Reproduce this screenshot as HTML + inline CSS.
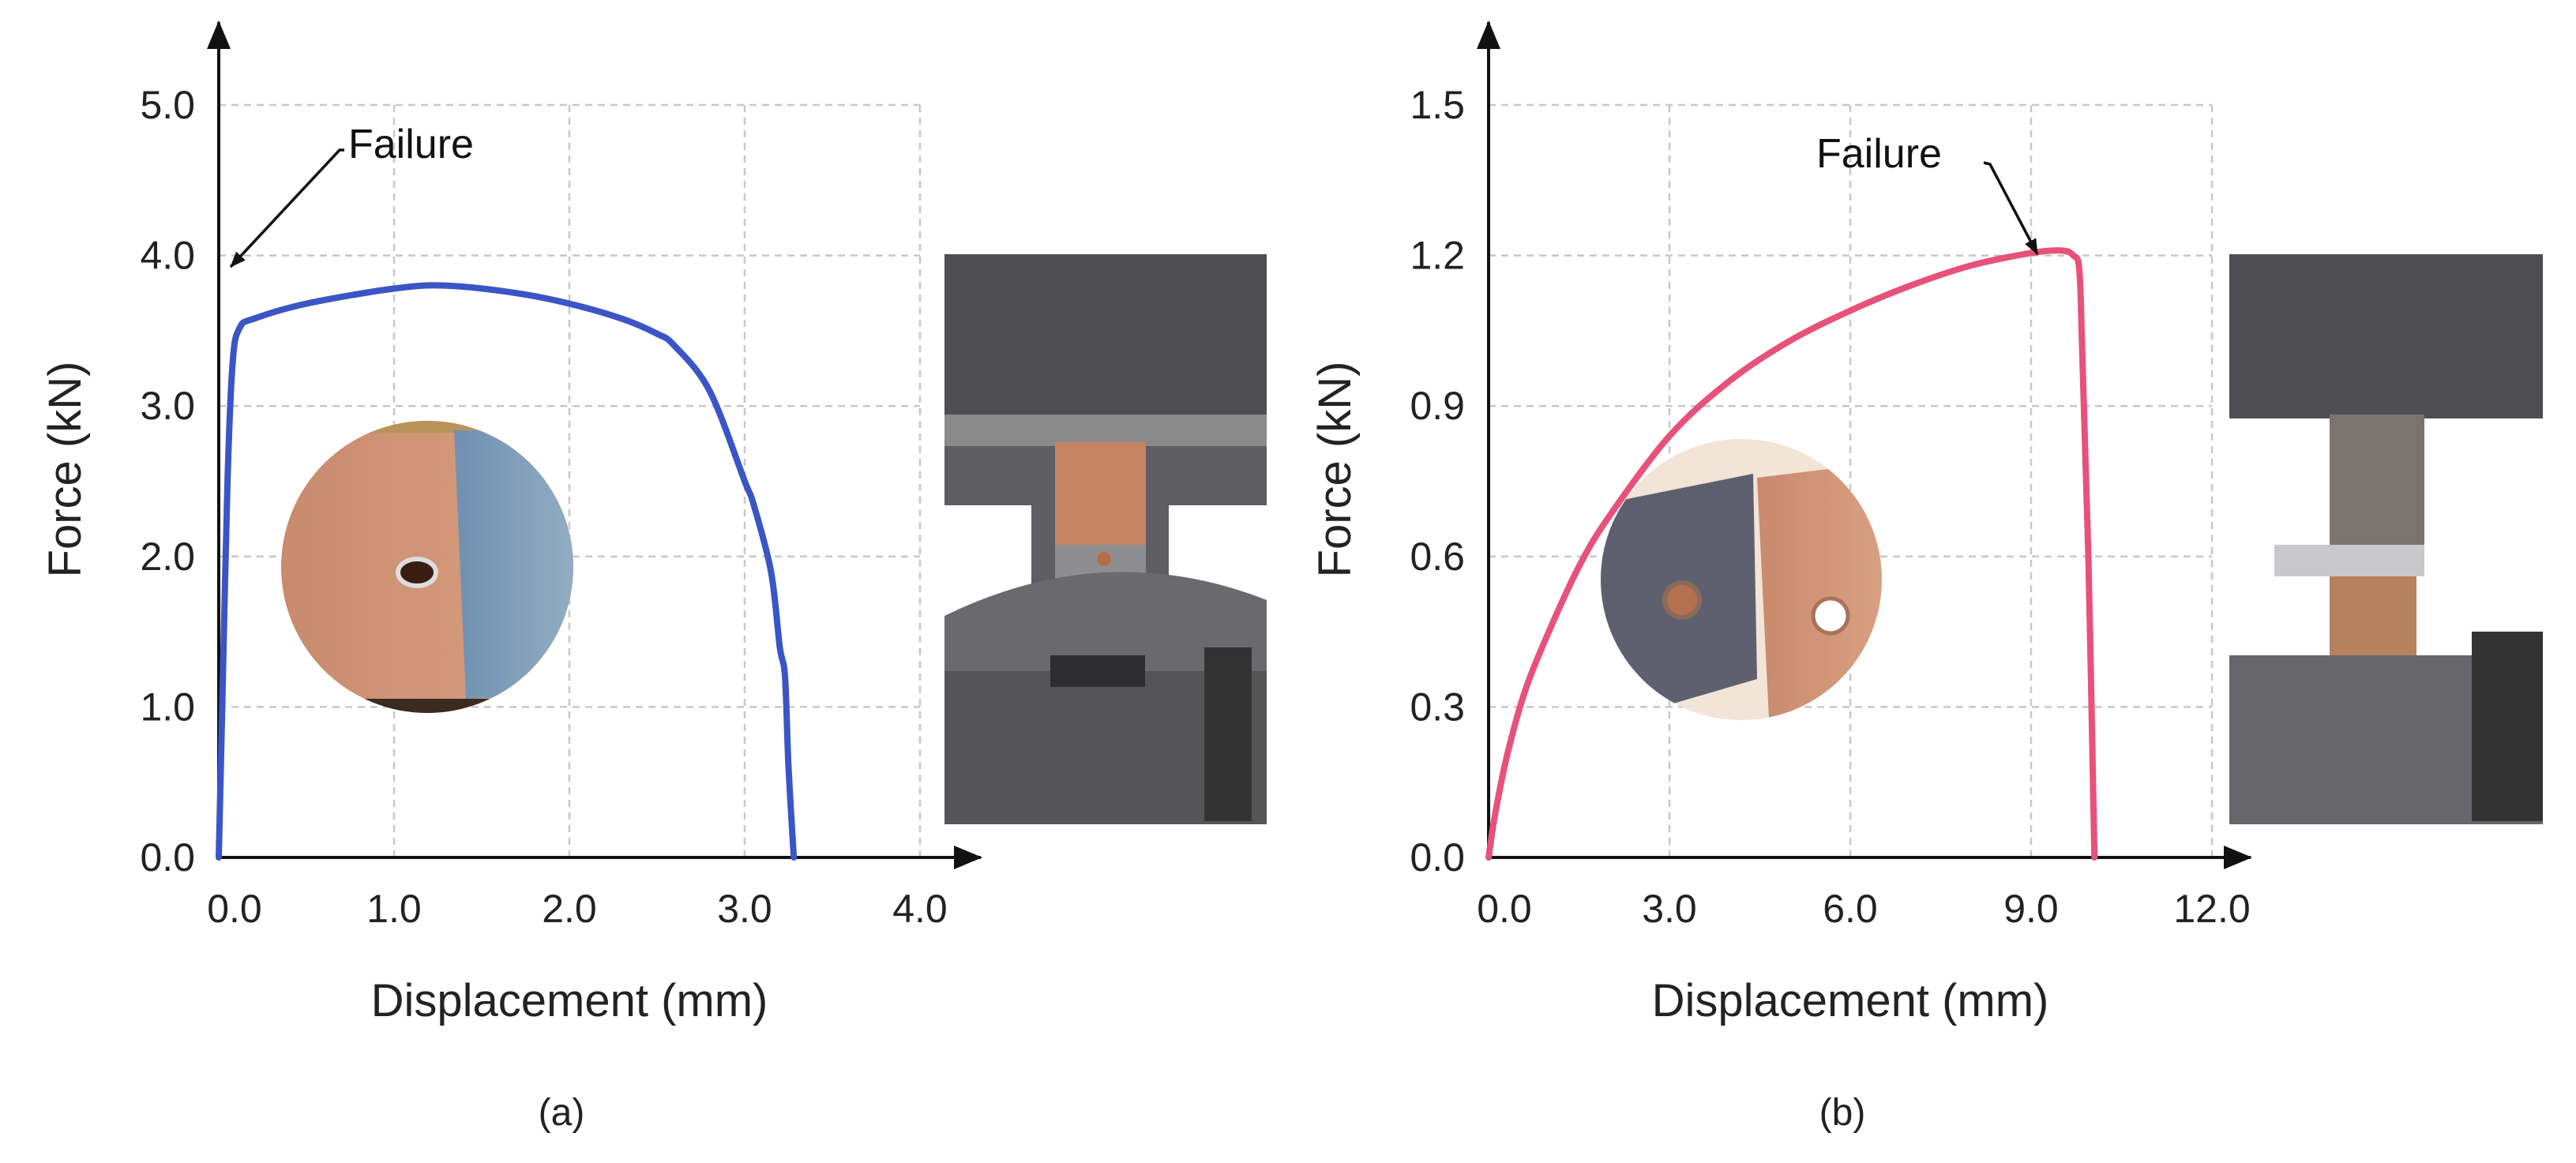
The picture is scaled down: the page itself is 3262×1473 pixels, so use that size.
<!DOCTYPE html>
<html><head><meta charset="utf-8"><style>
html,body{margin:0;padding:0;background:#fff;}
svg{display:block;font-family:"Liberation Sans",sans-serif;}
</style></head><body>
<svg id="fig" width="3262" height="1473" viewBox="0 0 3262 1473">
<defs>
<marker id="ah" markerWidth="36" markerHeight="30" refX="34" refY="15" orient="auto" markerUnits="userSpaceOnUse"><path d="M0,0 L36,15 L0,30 z" fill="#111"/></marker>
<marker id="ah2" markerWidth="20" markerHeight="16" refX="19" refY="8" orient="auto" markerUnits="userSpaceOnUse"><path d="M0,0 L20,8 L0,16 z" fill="#111"/></marker>
<linearGradient id="cu" x1="0" x2="1"><stop offset="0" stop-color="#c98a6d"/><stop offset="1" stop-color="#d9a283"/></linearGradient>
<linearGradient id="steel" x1="0" x2="1"><stop offset="0" stop-color="#6f90b0"/><stop offset="1" stop-color="#9ab3c8"/></linearGradient>
<clipPath id="c1"><circle cx="541" cy="718" r="185"/></clipPath>
<clipPath id="c2"><circle cx="2205" cy="734" r="178"/></clipPath>
</defs>
<g id="root"></g>
</svg>
<script>
// Chart (a)
const dispA = [0,0.02,0.05,0.08,0.12,0.2,0.5,1.0,1.3,1.7,2.0,2.3,2.5,2.6,2.8,3.0,3.05,3.15,3.2,3.23,3.25,3.28];
const forceA = [0,1.0,2.5,3.3,3.52,3.58,3.68,3.78,3.8,3.75,3.68,3.58,3.48,3.4,3.1,2.5,2.35,1.9,1.4,1.2,0.6,0];
const xTicksA = ["0.0","1.0","2.0","3.0","4.0"];
const yTicksA = ["0.0","1.0","2.0","3.0","4.0","5.0"];
// Chart (b)
const dispB = [0,0.1,0.3,0.6,1,1.5,2,3,4,5,6,7,8,9,9.5,9.7,9.8,9.85,9.95,10.05];
const forceB = [0,0.08,0.2,0.33,0.45,0.58,0.68,0.84,0.95,1.03,1.09,1.14,1.18,1.205,1.21,1.2,1.17,1.0,0.6,0];
const xTicksB = ["0.0","3.0","6.0","9.0","12.0"];
const yTicksB = ["0.0","0.3","0.6","0.9","1.2","1.5"];

const NS="http://www.w3.org/2000/svg";
const root=document.getElementById('root');
function el(tag,attrs,parent){const e=document.createElementNS(NS,tag);for(const k in attrs)e.setAttribute(k,attrs[k]);(parent||root).appendChild(e);return e;}

function smoothPath(pts){
  let d='M'+pts[0][0].toFixed(1)+','+pts[0][1].toFixed(1);
  for(let i=0;i<pts.length-1;i++){
    const p0=pts[i-1]||pts[i],p1=pts[i],p2=pts[i+1],p3=pts[i+2]||p2;
    const c1=[p1[0]+(p2[0]-p0[0])/6,p1[1]+(p2[1]-p0[1])/6];
    const c2=[p2[0]-(p3[0]-p1[0])/6,p2[1]-(p3[1]-p1[1])/6];
    d+=` C${c1[0].toFixed(1)},${c1[1].toFixed(1)} ${c2[0].toFixed(1)},${c2[1].toFixed(1)} ${p2[0].toFixed(1)},${p2[1].toFixed(1)}`;
  }
  return d;
}

function chart(o){
  const g=el('g',{});
  
  
  const xMax=parseFloat(o.xt[o.xt.length-1]), yMax=parseFloat(o.yt[o.yt.length-1]);
  const sx=v=>o.x0+v/xMax*o.w, sy=v=>o.y0-v/yMax*o.h;
  o.yt.forEach((t,i)=>{const v=parseFloat(t);
    if(v>0){const l=el('line',{x1:o.x0,x2:o.x0+o.w,y1:sy(v),y2:sy(v),stroke:'#c8c8c8','stroke-width':2.5,'stroke-dasharray':'9 7'},g);
    }
    const tx=el('text',{x:o.x0-30,y:sy(v)+17,'text-anchor':'end','font-size':50,fill:'#222'},g);tx.textContent=t;
    });
  o.xt.forEach((t,i)=>{const v=parseFloat(t);
    if(v>0){const l=el('line',{x1:sx(v),x2:sx(v),y1:o.y0,y2:o.y0-o.h,stroke:'#c8c8c8','stroke-width':2.5,'stroke-dasharray':'9 7'},g);
    }
    const tx=el('text',{x:sx(v)+(v===0?20:0),y:o.y0+82,'text-anchor':'middle','font-size':50,fill:'#222'},g);tx.textContent=t;
    });
  const ya=el('line',{x1:o.x0,y1:o.y0,x2:o.x0,y2:28,stroke:'#111','stroke-width':4,'marker-end':'url(#ah)'},g);
  
  const xa=el('line',{x1:o.x0,y1:o.y0,x2:o.xEnd,y2:o.y0,stroke:'#111','stroke-width':4,'marker-end':'url(#ah)'},g);
  
  const xt=el('text',{x:o.x0+o.w/2,y:1287,'text-anchor':'middle','font-size':58,fill:'#222'},g);xt.textContent='Displacement (mm)';
  
  const yt=el('text',{x:0,y:0,transform:`translate(${o.x0-175},${(o.y0+133)/2-15}) rotate(-90)`,'text-anchor':'middle','font-size':58,fill:'#222'},g);yt.textContent='Force (kN)';
  
  const cap=el('text',{x:o.x0+o.w/2-10,y:1425,'text-anchor':'middle','font-size':48,fill:'#222'},g);cap.textContent=o.cap;
  
  o.photo(g);
  const pts=o.xs.map((x,i)=>[sx(x),sy(o.ys[i])]);
  const p=el('path',{d:smoothPath(pts),fill:'none',stroke:o.color,'stroke-width':8,'stroke-linejoin':'round','stroke-linecap':'round'},g);
  
  const ft=el('text',{x:o.fx,y:o.fy,'font-size':52,fill:'#111'},g);ft.textContent='Failure';
  
  const ar=el('path',{d:o.arrow,fill:'none',stroke:'#111','stroke-width':3.5,'marker-end':'url(#ah2)'},g);
  
}

function photoA(g){
  const c=el('g',{'clip-path':'url(#c1)'},g);
  
  el('rect',{x:350,y:530,width:400,height:380,fill:'url(#cu)'},c);
  el('rect',{x:350,y:530,width:400,height:18,fill:'#b9935a'},c);
  el('polygon',{points:'575,545 760,545 760,880 590,885',fill:'url(#steel)'},c);
  el('rect',{x:350,y:885,width:400,height:30,fill:'#3a2a20'},c);
  el('ellipse',{cx:528,cy:725,rx:24,ry:17,fill:'#3a1e14',stroke:'#ddd','stroke-width':6},c);
  el('ellipse',{cx:756,cy:697,rx:22,ry:17,fill:'#c48a78',stroke:'#e4ecf2','stroke-width':6},c);
  const ph=el('g',{},g);
  
  el('rect',{x:1196,y:322,width:408,height:722,fill:'#5e5e62'},ph);
  el('rect',{x:1196,y:322,width:408,height:210,fill:'#4d4d52'},ph);
  el('rect',{x:1196,y:525,width:408,height:40,fill:'#8a8a8a'},ph);
  el('rect',{x:1336,y:560,width:115,height:140,fill:'#c48462'},ph);
  el('rect',{x:1336,y:690,width:115,height:240,fill:'#8e8e90'},ph);
  el('circle',{cx:1398,cy:708,r:9,fill:'#b56d48'},ph);
  el('rect',{x:1196,y:640,width:110,height:200,fill:'#fff'},ph);
  el('rect',{x:1480,y:640,width:124,height:180,fill:'#fff'},ph);
  el('path',{d:'M1196,780 Q1400,680 1604,760 L1604,1044 L1196,1044 z',fill:'#6a6a6e'},ph);
  el('rect',{x:1196,y:850,width:408,height:194,fill:'#555558'},ph);
  el('rect',{x:1330,y:830,width:120,height:40,fill:'#2e2e30'},ph);
  el('rect',{x:1525,y:820,width:60,height:220,fill:'#333'},ph);
}
function photoB(g){
  const c=el('g',{'clip-path':'url(#c2)'},g);
  
  el('rect',{x:2020,y:550,width:380,height:370,fill:'#f2e4d6'},c);
  el('polygon',{points:'2020,640 2220,600 2225,860 2020,920',fill:'#5e6070'},c);
  el('polygon',{points:'2225,605 2390,585 2395,900 2240,910',fill:'url(#cu)'},c);
  el('circle',{cx:2130,cy:760,r:22,fill:'#b57050',stroke:'#8a6a5a','stroke-width':6},c);
  el('circle',{cx:2318,cy:780,r:22,fill:'#fff',stroke:'#a8735a','stroke-width':5},c);
  const ph=el('g',{},g);
  
  el('rect',{x:2823,y:322,width:397,height:722,fill:'#5a5a5e'},ph);
  el('rect',{x:2823,y:322,width:397,height:210,fill:'#4d4d52'},ph);
  el('rect',{x:2823,y:530,width:397,height:300,fill:'#fff'},ph);
  el('rect',{x:2950,y:525,width:120,height:175,fill:'#7a7470'},ph);
  el('rect',{x:2880,y:690,width:190,height:40,fill:'#c9c9cc'},ph);
  el('rect',{x:2950,y:730,width:110,height:110,fill:'#b7805f'},ph);
  el('rect',{x:2823,y:830,width:397,height:214,fill:'#66666a'},ph);
  el('rect',{x:3130,y:800,width:90,height:240,fill:'#333'},ph);
}

chart({name:'chart-a',x0:277,y0:1086,w:888,h:953,xEnd:1242,xt:xTicksA,yt:yTicksA,xs:dispA,ys:forceA,color:'#3a55c6',cap:'(a)',
  fx:441,fy:200,arrow:'M436,190 L430,190 L292,338',photo:photoA});
chart({name:'chart-b',x0:1885,y0:1086,w:916,h:953,xEnd:2850,xt:xTicksB,yt:yTicksB,xs:dispB,ys:forceB,color:'#e8517a',cap:'(b)',
  fx:2300,fy:212,arrow:'M2512,206 L2520,208 L2580,322',photo:photoB});
</script>
</body></html>
